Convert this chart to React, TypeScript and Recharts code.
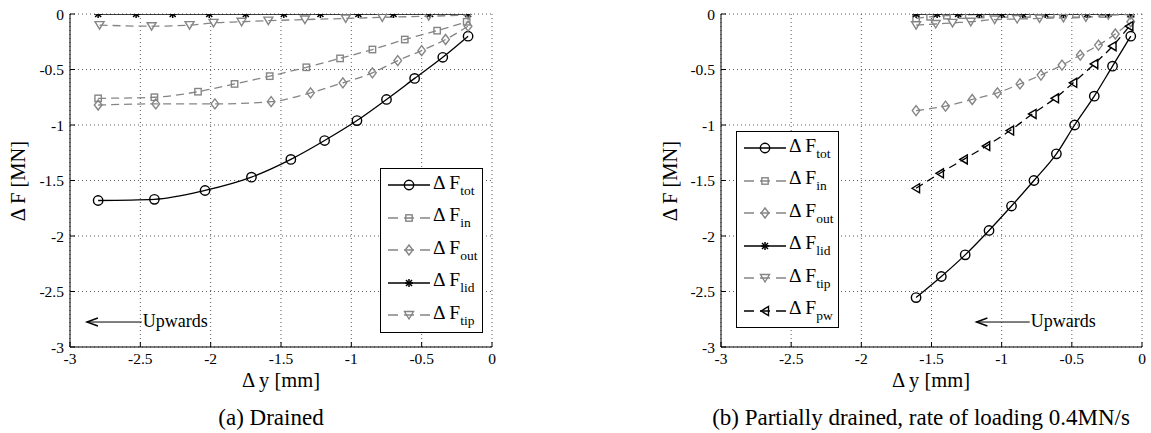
// Force change vs. vertical displacement, drained and partially drained panels

import type { ReactElement } from "react";
import {
  LineChart,
  Line,
  XAxis,
  YAxis,
  CartesianGrid,
  Legend,
  ReferenceLine,
} from "recharts";

const FONT = '"Liberation Serif", "Times New Roman", serif';
const GREY = "#858585";
const TICKS = [-3, -2.5, -2, -1.5, -1, -0.5, 0];

// (a) drained
const dTotX = [-2.8, -2.4, -2.04, -1.71, -1.43, -1.19, -0.96, -0.75, -0.55, -0.35, -0.17];
const dTotY = [-1.68, -1.67, -1.59, -1.47, -1.31, -1.14, -0.96, -0.77, -0.58, -0.39, -0.2];
const dInX = [-2.8, -2.4, -2.09, -1.83, -1.58, -1.32, -1.08, -0.85, -0.62, -0.39, -0.18];
const dInY = [-0.76, -0.75, -0.7, -0.63, -0.56, -0.48, -0.4, -0.32, -0.23, -0.15, -0.07];
const dOutX = [-2.8, -2.39, -1.97, -1.57, -1.29, -1.06, -0.85, -0.67, -0.5, -0.33, -0.17];
const dOutY = [-0.82, -0.81, -0.81, -0.79, -0.71, -0.62, -0.53, -0.42, -0.33, -0.23, -0.11];
const dLidX = [-2.8, -2.53, -2.27, -2.01, -1.75, -1.48, -1.22, -0.95, -0.7, -0.44, -0.17];
const dLidY = [0, 0, 0, 0, 0, 0, 0, 0, 0, 0, 0];
const dTipX = [-2.79, -2.42, -2.15, -1.98, -1.78, -1.59, -1.33, -1.04, -0.78, -0.45, -0.17];
const dTipY = [-0.1, -0.11, -0.1, -0.08, -0.07, -0.06, -0.05, -0.04, -0.03, -0.02, -0.01];

// (b) partially drained
const pTotX = [-1.61, -1.43, -1.26, -1.09, -0.93, -0.77, -0.61, -0.48, -0.34, -0.21, -0.08];
const pTotY = [-2.555, -2.365, -2.17, -1.95, -1.73, -1.5, -1.26, -1.0, -0.74, -0.47, -0.2];
const pInX = [-1.61, -1.51, -1.39, -1.28, -1.15, -0.98, -0.82, -0.65, -0.47, -0.28, -0.08];
const pInY = [-0.04, -0.025, -0.015, -0.01, -0.005, 0, 0, 0, 0, 0, 0];
const pOutX = [-1.61, -1.4, -1.21, -1.03, -0.87, -0.72, -0.57, -0.44, -0.31, -0.19, -0.08];
const pOutY = [-0.87, -0.83, -0.77, -0.71, -0.63, -0.55, -0.46, -0.37, -0.28, -0.18, -0.07];
const pLidX = [-1.61, -1.46, -1.31, -1.16, -1.0, -0.85, -0.69, -0.56, -0.39, -0.24, -0.08];
const pLidY = [0, 0, 0, 0, 0, 0, 0, 0, 0, 0, 0];
const pTipX = [-1.61, -1.47, -1.35, -1.22, -1.05, -0.89, -0.73, -0.56, -0.4, -0.24, -0.08];
const pTipY = [-0.1, -0.09, -0.08, -0.07, -0.05, -0.045, -0.04, -0.035, -0.03, -0.01, -0.005];
const pPwX = [-1.61, -1.44, -1.27, -1.11, -0.94, -0.78, -0.62, -0.49, -0.34, -0.21, -0.09];
const pPwY = [-1.57, -1.435, -1.31, -1.19, -1.05, -0.9, -0.76, -0.62, -0.45, -0.29, -0.11];

type Shape = "circle" | "square" | "diamond" | "star" | "triDown" | "triLeft";

interface Series {
  sub: string;
  color: string;
  dash?: string;
  shape: Shape;
  data: { x: number; y: number }[];
}

const zip = (xs: number[], ys: number[]) => xs.map((x, i) => ({ x, y: ys[i] }));

const drained: Series[] = [
  { sub: "tot", color: "#000", shape: "circle", data: zip(dTotX, dTotY) },
  { sub: "in", color: GREY, dash: "8 5", shape: "square", data: zip(dInX, dInY) },
  { sub: "out", color: GREY, dash: "8 5", shape: "diamond", data: zip(dOutX, dOutY) },
  { sub: "lid", color: "#000", shape: "star", data: zip(dLidX, dLidY) },
  { sub: "tip", color: GREY, dash: "8 5", shape: "triDown", data: zip(dTipX, dTipY) },
];

const partial: Series[] = [
  { sub: "tot", color: "#000", shape: "circle", data: zip(pTotX, pTotY) },
  { sub: "in", color: GREY, dash: "8 5", shape: "square", data: zip(pInX, pInY) },
  { sub: "out", color: GREY, dash: "8 5", shape: "diamond", data: zip(pOutX, pOutY) },
  { sub: "lid", color: "#000", shape: "star", data: zip(pLidX, pLidY) },
  { sub: "tip", color: GREY, dash: "8 5", shape: "triDown", data: zip(pTipX, pTipY) },
  { sub: "pw", color: "#000", dash: "8 5", shape: "triLeft", data: zip(pPwX, pPwY) },
];

function Marker({ shape, cx, cy, color }: { shape: Shape; cx: number; cy: number; color: string }) {
  const common = { fill: "none", stroke: color, strokeWidth: 1.4 };
  switch (shape) {
    case "circle":
      return <circle cx={cx} cy={cy} r={4.7} {...common} />;
    case "square":
      return <rect x={cx - 3.2} y={cy - 3.2} width={6.4} height={6.4} {...common} />;
    case "diamond":
      return (
        <polygon
          points={`${cx},${cy - 5} ${cx + 3.8},${cy} ${cx},${cy + 5} ${cx - 3.8},${cy}`}
          {...common}
        />
      );
    case "star":
      return (
        <g stroke={color} strokeWidth={1.5}>
          <line x1={cx - 4} y1={cy} x2={cx + 4} y2={cy} />
          <line x1={cx} y1={cy - 4} x2={cx} y2={cy + 4} />
          <line x1={cx - 3} y1={cy - 3} x2={cx + 3} y2={cy + 3} />
          <line x1={cx - 3} y1={cy + 3} x2={cx + 3} y2={cy - 3} />
        </g>
      );
    case "triDown":
      return (
        <polygon points={`${cx - 4.5},${cy - 3.5} ${cx + 4.5},${cy - 3.5} ${cx},${cy + 4}`} {...common} />
      );
    case "triLeft":
      return (
        <polygon points={`${cx - 4},${cy} ${cx + 3.5},${cy - 4.5} ${cx + 3.5},${cy + 4.5}`} {...common} />
      );
  }
}

const dotFor = (s: Series) => (p: any): ReactElement => (
  <Marker key={`d-${p.index}`} shape={s.shape} cx={p.cx} cy={p.cy} color={s.color} />
);

const legendContent = (series: Series[]) => () => (
  <div
    style={{
      border: "1.5px solid #000",
      background: "#fff",
      padding: "0 0 0 7px",
      fontFamily: FONT,
      boxSizing: "border-box",
      width: "100%",
    }}
  >
    {series.map((s) => (
      <div key={s.sub} style={{ display: "flex", alignItems: "center", height: 32.5 }}>
        <svg width={42} height={16} style={{ flex: "none" }}>
          <line
            x1={0}
            x2={42}
            y1={8}
            y2={8}
            stroke={s.color}
            strokeWidth={1.4}
            strokeDasharray={s.dash ? "10 6" : undefined}
          />
          <Marker shape={s.shape} cx={21} cy={8} color={s.color} />
        </svg>
        <span style={{ fontSize: 19.5, marginLeft: 3, whiteSpace: "nowrap", color: "#000" }}>
          Δ F
          <sub style={{ fontSize: 13.5, verticalAlign: "-6px" }}>{s.sub}</sub>
        </span>
      </div>
    ))}
  </div>
);

const upwardsShape = (p: any) => {
  const { x1, y1, x2 } = p;
  return (
    <g>
      <line x1={x1} y1={y1} x2={x2} y2={y1} stroke="#000" strokeWidth={1} />
      <polyline
        points={`${x1 + 11},${y1 - 4} ${x1},${y1} ${x1 + 11},${y1 + 4}`}
        fill="none"
        stroke="#000"
        strokeWidth={1.4}
      />
      <text x={x2 + 1} y={y1 + 5} fontSize={18} fontFamily={FONT} fill="#000">
        Upwards
      </text>
    </g>
  );
};

function Panel({
  series,
  width,
  marginLeft,
  marginRight,
  legendLeft,
  legendTop,
  arrowFrom,
  arrowTo,
}: {
  series: Series[];
  width: number;
  marginLeft: number;
  marginRight: number;
  legendLeft: number;
  legendTop: number;
  arrowFrom: number;
  arrowTo: number;
}) {
  const tickStyle = { fill: "#000", fontSize: 15.5, fontFamily: FONT };
  return (
    <LineChart
      width={width}
      height={433}
      margin={{ top: 14, right: marginRight, bottom: 56, left: marginLeft }}
      style={{ fontFamily: FONT }}
    >
      <CartesianGrid stroke="#333" strokeWidth={0.8} strokeDasharray="1 3" />
      <XAxis
        type="number"
        dataKey="x"
        domain={[-3, 0]}
        ticks={TICKS}
        allowDataOverflow
        height={30}
        tick={tickStyle}
        tickSize={-5}
        tickMargin={11}
        stroke="#000"
      />
      <YAxis
        type="number"
        dataKey="y"
        domain={[-3, 0]}
        ticks={TICKS}
        allowDataOverflow
        width={60}
        tick={tickStyle}
        tickSize={-5}
        tickMargin={11}
        stroke="#000"
      />
      <ReferenceLine
        segment={[
          { x: arrowFrom, y: -2.775 },
          { x: arrowTo, y: -2.775 },
        ]}
        shape={upwardsShape}
      />
      {series.map((s) => (
        <Line
          key={s.sub}
          data={s.data}
          dataKey="y"
          name={s.sub}
          type="monotone"
          stroke={s.color}
          strokeWidth={1.3}
          strokeDasharray={s.dash}
          dot={dotFor(s)}
          activeDot={false}
          isAnimationActive={false}
        />
      ))}
      <Legend
        layout="vertical"
        align="center"
        verticalAlign="middle"
        content={legendContent(series)}
        wrapperStyle={{ left: legendLeft, top: legendTop, width: 103 }}
      />
    </LineChart>
  );
}

const textBase = {
  position: "absolute" as const,
  fontFamily: FONT,
  color: "#000",
  whiteSpace: "nowrap" as const,
  transform: "translate(-50%, -50%)",
  lineHeight: 1,
};

export default function App() {
  return (
    <div
      style={{
        position: "absolute",
        left: 0,
        top: 0,
        width: 1151,
        height: 433,
        background: "#fff",
        overflow: "hidden",
        fontFamily: FONT,
      }}
    >
      <div style={{ position: "absolute", left: 0, top: 0 }}>
        <Panel
          series={drained}
          width={500}
          marginLeft={10}
          marginRight={8}
          legendLeft={380}
          legendTop={168}
          arrowFrom={-2.88}
          arrowTo={-2.49}
        />
      </div>
      <div style={{ position: "absolute", left: 640, top: 0 }}>
        <Panel
          series={partial}
          width={511}
          marginLeft={21}
          marginRight={9}
          legendLeft={96}
          legendTop={131}
          arrowFrom={-1.18}
          arrowTo={-0.8}
        />
      </div>

      <div style={{ ...textBase, left: 18, top: 181, fontSize: 20.5, transform: "translate(-50%, -50%) rotate(-90deg)" }}>
        Δ F [MN]
      </div>
      <div style={{ ...textBase, left: 670, top: 181, fontSize: 20.5, transform: "translate(-50%, -50%) rotate(-90deg)" }}>
        Δ F [MN]
      </div>
      <div style={{ ...textBase, left: 281, top: 380, fontSize: 20.5 }}>Δ y [mm]</div>
      <div style={{ ...textBase, left: 931, top: 380, fontSize: 20.5 }}>Δ y [mm]</div>
      <div style={{ ...textBase, left: 271, top: 417, fontSize: 23 }}>(a) Drained</div>
      <div style={{ ...textBase, left: 921, top: 417, fontSize: 23 }}>
        (b) Partially drained, rate of loading 0.4MN/s
      </div>
    </div>
  );
}
